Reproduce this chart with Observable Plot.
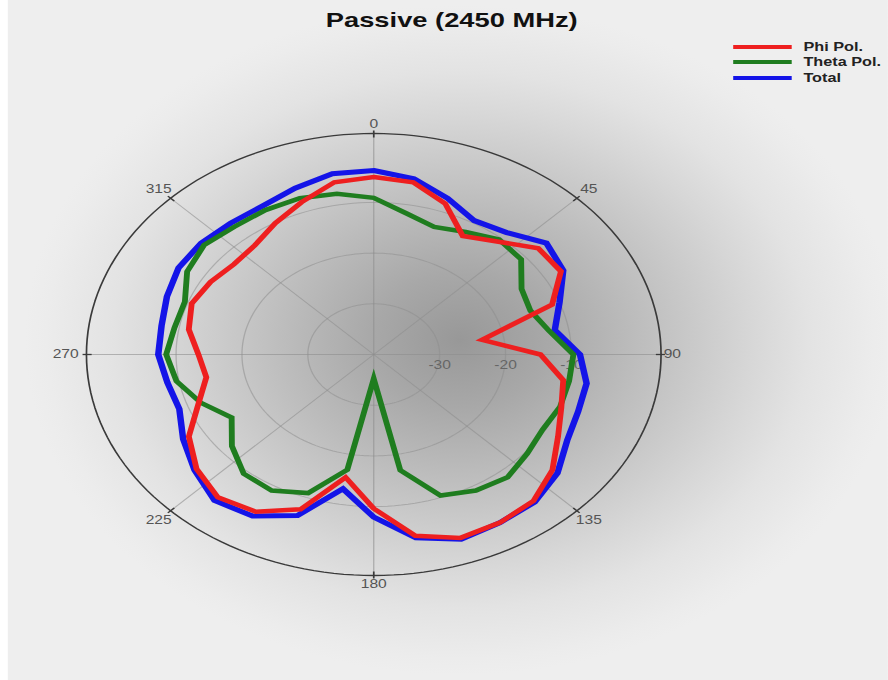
<!DOCTYPE html>
<html>
<head>
<meta charset="utf-8">
<script src="https://cdn.jsdelivr.net/npm/d3@7"></script>
<script src="https://cdn.jsdelivr.net/npm/@observablehq/plot@0.6"></script>
<style>
  html, body { margin:0; padding:0; width:888px; height:680px; overflow:hidden; background:#ffffff; }
  #wrap { position:absolute; left:0; top:0; width:683px; height:680px; transform:scaleX(1.3); transform-origin:0 0;
    font-family: Arial, "Liberation Sans", Helvetica, sans-serif;
    background: radial-gradient(circle 335px at 354px 340px, #989898 0%, #a8a8a8 20%, #c9c9c9 53%, #d7d7d7 67%, #e3e3e3 80%, #ececec 95%, #eeeeee 100%); }
  #edge { position:absolute; left:0; top:0; width:6px; height:680px; background:#ffffff; }
  #title { position:absolute; left:0; top:7px; width:695px; text-align:center; font-size:21px; line-height:26px; font-weight:bold; color:#111; }
  #chart { position:absolute; left:0; top:36px; }
  #legend { position:absolute; left:564px; top:39px; font-size:12.5px; font-weight:bold; color:#222; }
  .row { display:flex; align-items:center; height:15.5px; white-space:nowrap; }
  .sw { width:45px; height:4px; margin-right:9px; }
</style>
</head>
<body>
<div id="wrap"><div id="edge"></div><div id="title"></div><div id="chart"></div><div id="legend"></div></div>
<script>
// ---- data ----
const title = "Passive (2450 MHz)";
const angles = [0,10,20,30,40,50,60,70,80,90,100,110,120,130,140,150,160,170,180,190,200,210,220,230,240,250,260,270,280,290,300,310,320,330,340,350];
const phiPol = [-5.0,-5.5,-8.3,-13.0,-10.9,-7.4,-7.2,-11.2,-23.3,-14.7,-10.8,-9.7,-7.7,-4.6,-2.3,-1.7,-1.5,-3.7,-9.6,-15.4,-7.5,-4.2,-3.2,-4.9,-7.6,-11.7,-14.2,-13.4,-11.5,-10.6,-11.4,-12.3,-11.9,-10.1,-8.0,-5.5];
const thetaPol = [-9.1,-11.7,-13.2,-12.1,-10.4,-10.8,-14.1,-14.7,-13.0,-9.7,-9.9,-9.9,-10.4,-9.6,-8.4,-9.0,-10.4,-16.8,-35.2,-16.9,-10.9,-9.0,-9.3,-11.9,-15.1,-12.1,-9.6,-8.5,-9.3,-9.5,-7.3,-6.4,-7.1,-7.1,-7.2,-7.8];
const total = [-3.7,-4.8,-7.2,-9.5,-8.6,-5.8,-6.8,-10.0,-12.1,-8.7,-7.2,-7.0,-6.1,-3.6,-2.0,-1.7,-1.2,-3.3,-7.9,-13.1,-6.2,-3.2,-2.4,-4.5,-6.6,-8.6,-8.2,-7.3,-7.3,-6.6,-5.8,-5.8,-6.2,-6.2,-5.1,-3.8];
const seriesNames = ["Phi Pol.", "Theta Pol.", "Total"];
const seriesColors = ["#ee1f1f", "#1f7d1f", "#1414e8"];
const angleTicks = [0,45,90,135,180,225,270,315];
const ringTicks = [-30,-20,-10];

// ---- geometry helpers ----
const DB_MIN = -40, DB_MAX = 3.6;
const R_PX = 221;
const rad = d => (d - DB_MIN) / (DB_MAX - DB_MIN);
const px = (r, a) => r * Math.sin(a * Math.PI / 180);
const py = (r, a) => r * Math.cos(a * Math.PI / 180);

const table = (vals, name) => angles.map((a, i) => ({series: name, angle: a, db: vals[i], x: px(rad(vals[i]), a), y: py(rad(vals[i]), a)}));
const phiRows = table(phiPol, seriesNames[0]);
const thetaRows = table(thetaPol, seriesNames[1]);
const totalRows = table(total, seriesNames[2]);

const circle = (r, key) => d3.range(0, 360, 2).map(a => ({key, x: px(r, a), y: py(r, a)}));
const ringRows = ringTicks.flatMap(v => circle(rad(v), v));
const outerRows = circle(1, "outer");
const spokeRows = angleTicks.map(a => ({x1: 0, y1: 0, x2: px(1, a), y2: py(1, a)}));
const tickRows = angleTicks.map(a => ({x1: px(1 - 4 / R_PX, a), y1: py(1 - 4 / R_PX, a), x2: px(1 + 3 / R_PX, a), y2: py(1 + 3 / R_PX, a)}));
const labOff = a => (a % 90 === 0 ? 9 : 13);
const midLabels = angleTicks.filter(a => a !== 90 && a !== 270).map(a => {
  const r = 1 + labOff(a) / R_PX; return {t: String(a), x: px(r, a), y: py(r, a)};
});
const rightLabel = [{t: "90", x: px(1 + 2 / R_PX, 90), y: 0}];
const leftLabel = [{t: "270", x: px(1 + 6 / R_PX, 270), y: 0}];
const ringLabels = ringTicks.map(v => ({t: String(v), x: rad(v), y: 0}));

const lineOpts = (color, w) => ({x: "x", y: "y", curve: "linear-closed", stroke: color, strokeWidth: w, strokeLinejoin: "miter", strokeMiterlimit: 6});

const chart = Plot.plot({
  width: 683, height: 644,
  marginLeft: 66, marginRight: 175, marginTop: 97, marginBottom: 105,
  x: {domain: [-1, 1], axis: null},
  y: {domain: [-1, 1], axis: null},
  style: {background: "transparent", overflow: "visible", fontFamily: "Arial, 'Liberation Sans', sans-serif"},
  marks: [
    Plot.link(spokeRows, {x1: "x1", y1: "y1", x2: "x2", y2: "y2", stroke: "#8e8e8e", strokeOpacity: 0.6, strokeWidth: 1}),
    Plot.line(ringRows, {x: "x", y: "y", z: "key", curve: "linear-closed", stroke: "#8e8e8e", strokeOpacity: 0.55, strokeWidth: 1}),
    Plot.line(outerRows, {x: "x", y: "y", curve: "linear-closed", stroke: "#3a3a3a", strokeWidth: 1.3}),
    Plot.link(tickRows, {x1: "x1", y1: "y1", x2: "x2", y2: "y2", stroke: "#3a3a3a", strokeWidth: 1.3}),
    Plot.text(midLabels, {x: "x", y: "y", text: "t", fontSize: 12, fill: "#555"}),
    Plot.text(rightLabel, {x: "x", y: "y", text: "t", fontSize: 12, fill: "#555", textAnchor: "start"}),
    Plot.text(leftLabel, {x: "x", y: "y", text: "t", fontSize: 12, fill: "#555", textAnchor: "end"}),
    Plot.text(ringLabels, {x: "x", y: "y", text: "t", dy: 11, fontSize: 12, fill: "#666"}),
    Plot.line(totalRows, lineOpts(seriesColors[2], 5)),
    Plot.line(thetaRows, lineOpts(seriesColors[1], 4.5)),
    Plot.line(phiRows, lineOpts(seriesColors[0], 4.5))
  ]
});
document.getElementById("chart").appendChild(chart);
document.getElementById("title").textContent = title;
const legend = document.getElementById("legend");
seriesNames.forEach((n, i) => {
  const row = document.createElement("div"); row.className = "row";
  const sw = document.createElement("div"); sw.className = "sw"; sw.style.background = seriesColors[i];
  const lab = document.createElement("span"); lab.textContent = n;
  row.appendChild(sw); row.appendChild(lab); legend.appendChild(row);
});
</script>
</body>
</html>
